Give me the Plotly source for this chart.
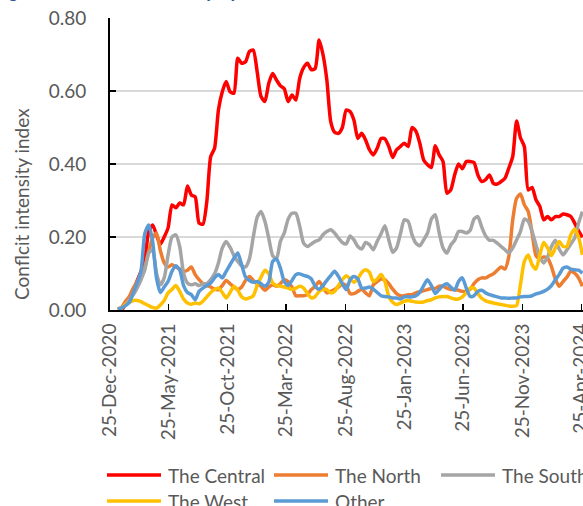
import pandas as pd
import plotly.graph_objects as go

# ---------------- data ----------------
dates = pd.date_range("2021-01-14", periods=121, freq="10D")

series_names = ["The Central", "The North", "The South", "The West", "Other"]

central = [0.0, 0.0, 0.015, 0.03, 0.05, 0.08, 0.105, 0.14, 0.215, 0.233,
           0.206, 0.18, 0.2, 0.225, 0.288, 0.28, 0.293, 0.288, 0.34, 0.315,
           0.31, 0.238, 0.235, 0.297, 0.42, 0.443, 0.548, 0.598, 0.626, 0.598,
           0.594, 0.69, 0.676, 0.68, 0.708, 0.712, 0.653, 0.585, 0.571, 0.621,
           0.648, 0.63, 0.614, 0.606, 0.571, 0.589, 0.575, 0.635, 0.664, 0.676,
           0.658, 0.662, 0.74, 0.7, 0.63, 0.516, 0.487, 0.484, 0.5, 0.548,
           0.544, 0.52, 0.47, 0.484, 0.466, 0.439, 0.425, 0.443, 0.47, 0.469,
           0.448, 0.418, 0.439, 0.448, 0.457, 0.448, 0.5, 0.49, 0.457, 0.411,
           0.398, 0.39, 0.45, 0.425, 0.407, 0.32, 0.329, 0.37, 0.4, 0.387,
           0.407, 0.407, 0.404, 0.37, 0.352, 0.357, 0.37, 0.347, 0.345, 0.352,
           0.361, 0.389, 0.42, 0.518, 0.472, 0.448, 0.329, 0.336, 0.302, 0.284,
           0.247, 0.256, 0.247, 0.256, 0.256, 0.263, 0.261, 0.256, 0.238, 0.217,
           0.199]

north = [0.003, 0.007, 0.024, 0.037, 0.06, 0.078, 0.097, 0.118, 0.161, 0.197,
         0.211, 0.163, 0.129, 0.118, 0.124, 0.118, 0.112, 0.106, 0.109, 0.118,
         0.097, 0.083, 0.072, 0.067, 0.063, 0.057, 0.056, 0.067, 0.081, 0.072,
         0.063, 0.056, 0.063, 0.081, 0.092, 0.081, 0.072, 0.065, 0.054, 0.063,
         0.069, 0.065, 0.072, 0.083, 0.078, 0.063, 0.039, 0.039, 0.039, 0.042,
         0.056, 0.065, 0.078, 0.063, 0.047, 0.051, 0.056, 0.063, 0.072, 0.067,
         0.045, 0.045, 0.051, 0.057, 0.047, 0.039, 0.069, 0.078, 0.085, 0.083,
         0.072, 0.057, 0.045, 0.039, 0.039, 0.042, 0.042, 0.047, 0.05, 0.053,
         0.056, 0.059, 0.059, 0.065, 0.065, 0.06, 0.056, 0.056, 0.054, 0.051,
         0.051, 0.057, 0.072, 0.083, 0.088, 0.088, 0.094, 0.099, 0.109, 0.118,
         0.112, 0.147, 0.247, 0.306, 0.318, 0.288, 0.27, 0.211, 0.149, 0.14,
         0.145, 0.142, 0.119, 0.085, 0.065, 0.078, 0.09, 0.106, 0.101, 0.088,
         0.065]

south = [0.003, 0.005, 0.015, 0.028, 0.042, 0.06, 0.083, 0.11, 0.156, 0.165,
         0.101, 0.069, 0.088, 0.151, 0.2, 0.206, 0.174, 0.101, 0.074, 0.069,
         0.072, 0.067, 0.072, 0.072, 0.083, 0.099, 0.129, 0.17, 0.188, 0.172,
         0.149, 0.133, 0.121, 0.118, 0.14, 0.2, 0.254, 0.27, 0.243, 0.197,
         0.149, 0.14, 0.188, 0.211, 0.249, 0.265, 0.265, 0.229, 0.183, 0.174,
         0.181, 0.188, 0.192, 0.206, 0.215, 0.22, 0.211, 0.197, 0.185, 0.181,
         0.203, 0.192, 0.174, 0.167, 0.185, 0.179, 0.165, 0.188, 0.209, 0.231,
         0.192, 0.158, 0.17, 0.209, 0.247, 0.243, 0.206, 0.183, 0.176, 0.192,
         0.211, 0.249, 0.261, 0.212, 0.17, 0.156, 0.178, 0.191, 0.215, 0.215,
         0.211, 0.218, 0.249, 0.256, 0.227, 0.203, 0.191, 0.191, 0.183, 0.174,
         0.165, 0.156, 0.17, 0.192, 0.215, 0.249, 0.243, 0.215, 0.179, 0.145,
         0.129, 0.145, 0.174, 0.191, 0.167, 0.151, 0.165, 0.181, 0.197, 0.238,
         0.27]

west = [0.003, 0.005, 0.015, 0.021, 0.026, 0.026, 0.023, 0.017, 0.012, 0.007,
        0.005, 0.014, 0.026, 0.047, 0.056, 0.067, 0.051, 0.03, 0.019, 0.016,
        0.019, 0.017, 0.024, 0.036, 0.048, 0.056, 0.06, 0.048, 0.033, 0.048,
        0.065, 0.054, 0.036, 0.03, 0.033, 0.039, 0.067, 0.09, 0.109, 0.099,
        0.074, 0.067, 0.065, 0.063, 0.06, 0.056, 0.06, 0.065, 0.06, 0.045,
        0.033, 0.037, 0.051, 0.056, 0.056, 0.047, 0.051, 0.067, 0.083, 0.094,
        0.085, 0.076, 0.086, 0.103, 0.11, 0.103, 0.078, 0.085, 0.097, 0.078,
        0.037, 0.021, 0.015, 0.019, 0.024, 0.026, 0.024, 0.022, 0.021, 0.022,
        0.026, 0.028, 0.033, 0.036, 0.037, 0.037, 0.033, 0.03, 0.03, 0.036,
        0.047, 0.06, 0.06, 0.045, 0.032, 0.025, 0.022, 0.019, 0.017, 0.015,
        0.013, 0.011, 0.01, 0.012, 0.07, 0.133, 0.151, 0.124, 0.112, 0.151,
        0.185, 0.17, 0.149, 0.17, 0.188, 0.174, 0.174, 0.206, 0.222, 0.2,
        0.151]

other = [0.003, 0.005, 0.012, 0.021, 0.047, 0.074, 0.106, 0.21, 0.233, 0.188,
         0.088, 0.048, 0.063, 0.078, 0.106, 0.121, 0.11, 0.067, 0.048, 0.042,
         0.028, 0.051, 0.06, 0.067, 0.074, 0.088, 0.097, 0.088, 0.106, 0.124,
         0.142, 0.156, 0.124, 0.09, 0.081, 0.076, 0.078, 0.072, 0.065, 0.076,
         0.133, 0.14, 0.115, 0.078, 0.067, 0.081, 0.097, 0.099, 0.095, 0.092,
         0.085, 0.065, 0.057, 0.067, 0.081, 0.094, 0.106, 0.092, 0.072, 0.056,
         0.083, 0.092, 0.085, 0.06, 0.06, 0.063, 0.057, 0.048, 0.039, 0.037,
         0.036, 0.033, 0.033, 0.03, 0.036, 0.036, 0.036, 0.039, 0.048, 0.067,
         0.083, 0.067, 0.045, 0.056, 0.067, 0.072, 0.063, 0.054, 0.078, 0.088,
         0.06, 0.037, 0.039, 0.051, 0.054, 0.047, 0.042, 0.039, 0.036, 0.033,
         0.033, 0.032, 0.033, 0.033, 0.036, 0.037, 0.037, 0.039, 0.044, 0.047,
         0.051, 0.057, 0.067, 0.083, 0.097, 0.115, 0.118, 0.112, 0.11, 0.109,
         0.101]

series_values = [central, north, south, west, other]
series_colors = ["#FF0000", "#ED7D31", "#A5A5A5", "#FFC000", "#5B9BD5"]

x_tick_dates = ["2020-12-25", "2021-05-25", "2021-10-25", "2022-03-25", "2022-08-25",
                "2023-01-25", "2023-06-25", "2023-11-25", "2024-04-25"]
x_tick_labels = ["25-Dec-2020", "25-May-2021", "25-Oct-2021", "25-Mar-2022", "25-Aug-2022",
                 "25-Jan-2023", "25-Jun-2023", "25-Nov-2023", "25-Apr-2024"]
y_tick_vals = [0.0, 0.2, 0.4, 0.6, 0.8]

y_title = "Conflcit intensity index"
fig_title = "Figure 2: Conflict intensity by zone"

# ---------------- figure ----------------
FONT = "Lato, 'Open Sans', sans-serif"
TXT = "#595959"
W, H = 583, 506
ML, MR, MT, MB = 110, 0, 18, 196
PW, PH = W - ML - MR, H - MT - MB

def px_x(p):
    return (p - ML) / PW

def px_y(p):
    return (H - MB - p) / PH

fig = go.Figure()
for name, vals, col in zip(series_names, series_values, series_colors):
    fig.add_trace(go.Scatter(
        x=dates, y=vals, name=name, mode="lines",
        line=dict(color=col, width=3.5, shape="spline", smoothing=0.6),
        showlegend=False, cliponaxis=True, hoverinfo="skip",
    ))

fig.update_layout(
    width=W, height=H,
    margin=dict(l=ML, r=MR, t=MT, b=MB, pad=0, autoexpand=False),
    paper_bgcolor="white", plot_bgcolor="white",
    font=dict(family=FONT, size=19, color=TXT),
    showlegend=False,
)

fig.update_xaxes(
    range=["2020-12-25", "2024-04-29 12:00"], automargin=False,
    tickmode="array", tickvals=x_tick_dates, ticktext=x_tick_labels,
    tickangle=-90, ticks="inside", ticklen=6, tickwidth=1.5, tickcolor="black",
    showline=True, linecolor="black", linewidth=2,
    showgrid=False, zeroline=False,
    tickfont=dict(family=FONT, size=19, color=TXT),
    ticklabelstandoff=4, ticklabeloverflow="allow",
)
fig.update_yaxes(
    range=[0, 0.8], automargin=False,
    tickmode="array", tickvals=y_tick_vals, tickformat=".2f",
    ticks="inside", ticklen=6, tickwidth=1.5, tickcolor="black",
    showline=True, linecolor="black", linewidth=2,
    showgrid=True, gridcolor="#D9D9D9", gridwidth=1.5,
    zeroline=False,
    tickfont=dict(family=FONT, size=19, color=TXT),
    ticklabelstandoff=18, ticklabeloverflow="allow",
)

# y-axis title
fig.add_annotation(
    text=y_title, xref="paper", yref="paper",
    x=px_x(21), y=px_y(204), textangle=-90, showarrow=False,
    xanchor="center", yanchor="middle",
    font=dict(family=FONT, size=19, color=TXT),
)

# title (mostly cut off at the top, as in the source)
fig.add_annotation(
    text="<b><i>" + fig_title + "</i></b>", xref="paper", yref="paper",
    x=px_x(-8), y=px_y(3), showarrow=False, xanchor="left", yanchor="bottom",
    font=dict(family=FONT, size=20, color="#2F5597"),
)

# custom legend
legend_pos = [(107, 475), (274, 475), (441, 475), (107, 501), (274, 501)]
for (lx, ly), name, col in zip(legend_pos, series_names, series_colors):
    fig.add_shape(type="line", xref="paper", yref="paper",
                  x0=px_x(lx), x1=px_x(lx + 54), y0=px_y(ly), y1=px_y(ly),
                  line=dict(color=col, width=3.5))
    fig.add_annotation(text=name, xref="paper", yref="paper",
                       x=px_x(lx + 59), y=px_y(ly), showarrow=False,
                       xanchor="left", yanchor="middle",
                       font=dict(family=FONT, size=19, color=TXT))

fig.write_html("out.html",
               config={"displayModeBar": False, "staticPlot": True},
               post_script="document.body.style.margin='0px';document.body.style.overflow='hidden';")
